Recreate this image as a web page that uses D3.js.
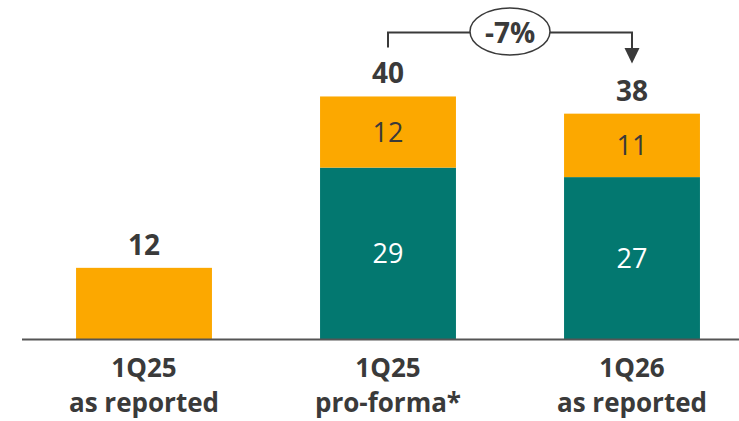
<!DOCTYPE html>
<html>
<head>
<meta charset="utf-8">
<script src="https://cdn.jsdelivr.net/npm/d3@7"></script>
<style>
  html, body { margin: 0; padding: 0; background: #fff; }
  svg { display: block; }
</style>
</head>
<body>
<svg id="chart" width="739" height="421"></svg>
<script>
// ---- data ----
const categories = ["1Q25|as reported", "1Q25|pro-forma*", "1Q26|as reported"];
const tealValues = [0, 28.9, 27.3];
const orangeValues = [12.0, 12.0, 10.7];
const tealLabels = ["", "29", "27"];
const orangeLabels = ["12", "12", "11"];
const totalLabels = ["12", "40", "38"];
const changeLabel = "-7%";

// ---- setup ----
const W = 739, H = 421;
const svg = d3.select("#chart");
const baseY = 339;
const x = d3.scaleBand().domain(categories).range([22, 754]).paddingInner(0.443).paddingOuter(0.2215);
const y = d3.scaleLinear().domain([0, 50]).range([baseY, baseY - 296.5]);

const TEAL = "#037870", ORANGE = "#FCA800", DARK = "#3a3a3a";
const FONT = "'Open Sans', sans-serif";

const rows = categories.map((c, i) => ({ c, teal: tealValues[i], orange: orangeValues[i], i }));

// teal segments
svg.append("g").selectAll("rect").data(rows.filter(d => d.teal > 0)).join("rect")
  .attr("x", d => x(d.c)).attr("width", x.bandwidth())
  .attr("y", d => y(d.teal)).attr("height", d => y(0) - y(d.teal))
  .attr("fill", TEAL);

// orange segments
svg.append("g").selectAll("rect").data(rows).join("rect")
  .attr("x", d => x(d.c)).attr("width", x.bandwidth())
  .attr("y", d => y(d.teal + d.orange)).attr("height", d => y(d.teal) - y(d.teal + d.orange))
  .attr("fill", ORANGE);

// baseline
svg.append("line").attr("x1", 22).attr("x2", W).attr("y1", baseY + 0.5).attr("y2", baseY + 0.5)
  .attr("stroke", "#555").attr("stroke-width", 2);

// inside labels
svg.append("g").selectAll("text").data(rows.filter(d => d.teal > 0)).join("text")
  .attr("x", d => x(d.c) + x.bandwidth() / 2)
  .attr("y", d => (y(0) + y(d.teal)) / 2)
  .attr("dy", "0.36em").attr("text-anchor", "middle")
  .attr("font-family", FONT).attr("font-size", 27).attr("fill", "#fff")
  .text(d => tealLabels[d.i]);

svg.append("g").selectAll("text").data(rows.filter(d => d.teal > 0)).join("text")
  .attr("x", d => x(d.c) + x.bandwidth() / 2)
  .attr("y", d => (y(d.teal) + y(d.teal + d.orange)) / 2)
  .attr("dy", "0.36em").attr("text-anchor", "middle")
  .attr("font-family", FONT).attr("font-size", 27).attr("fill", DARK)
  .text(d => orangeLabels[d.i]);

// total labels
svg.append("g").selectAll("text").data(rows).join("text")
  .attr("x", d => x(d.c) + x.bandwidth() / 2)
  .attr("y", d => y(d.teal + d.orange) - 13)
  .attr("text-anchor", "middle")
  .attr("font-family", FONT).attr("font-size", 28).attr("font-weight", 700).attr("fill", DARK)
  .text(d => totalLabels[d.i]);

// category labels
const cat = svg.append("g").selectAll("text").data(categories).join("text")
  .attr("text-anchor", "middle")
  .attr("font-family", FONT).attr("font-size", 26).attr("font-weight", 700).attr("fill", DARK);
cat.each(function (d) {
  const parts = d.split("|");
  const t = d3.select(this);
  const cx = x(d) + x.bandwidth() / 2;
  t.append("tspan").attr("x", cx).attr("y", 377).text(parts[0]);
  t.append("tspan").attr("x", cx).attr("y", 412).text(parts[1]);
});

// change annotation
const x1 = x(categories[1]) + x.bandwidth() / 2;
const x2 = x(categories[2]) + x.bandwidth() / 2;
const lineY = 32.5;
const ann = svg.append("g");
ann.append("path")
  .attr("d", `M${x1},${y(tealValues[1] + orangeValues[1]) - 49} V${lineY} H${x2} V${50}`)
  .attr("fill", "none").attr("stroke", DARK).attr("stroke-width", 2);
ann.append("path")
  .attr("d", `M${x2 - 7.5},${48} L${x2 + 7.5},${48} L${x2},${63.5} Z`)
  .attr("fill", DARK);
const ecx = (x1 + x2) / 2;
ann.append("ellipse").attr("cx", ecx).attr("cy", 31.5).attr("rx", 40).attr("ry", 23.5)
  .attr("fill", "#fff").attr("stroke", DARK).attr("stroke-width", 1.5);
ann.append("text").attr("x", ecx).attr("y", 32.5).attr("dy", "0.36em")
  .attr("text-anchor", "middle")
  .attr("font-family", FONT).attr("font-size", 28).attr("font-weight", 700).attr("fill", DARK)
  .text(changeLabel);
</script>
</body>
</html>
